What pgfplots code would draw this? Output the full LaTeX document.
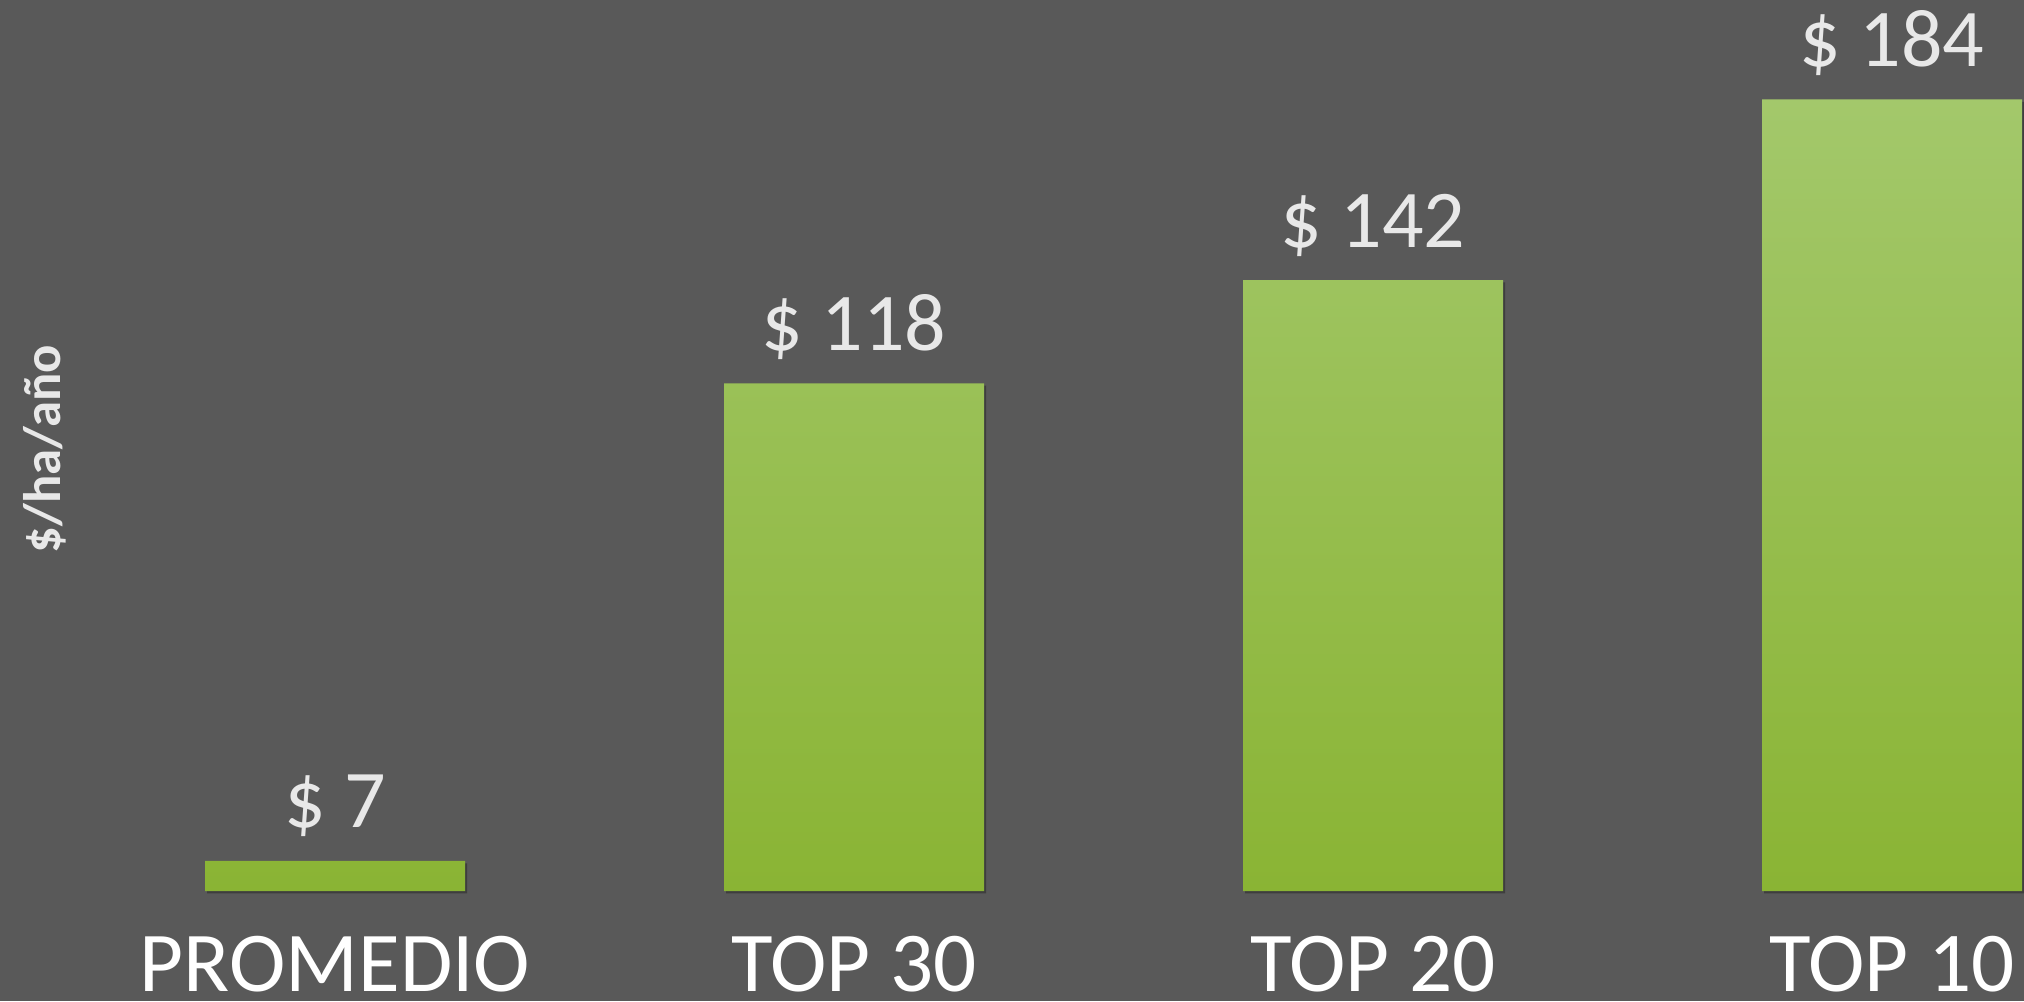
\documentclass[border=0pt]{standalone}
\usepackage{pgfplots}
\pgfplotsset{compat=1.18}
\usepackage{fontspec}
\setmainfont{Carlito}
\definecolor{bg}{HTML}{595959}
\definecolor{bartop}{HTML}{A3C86B}
\definecolor{barbot}{HTML}{8AB434}
\definecolor{vallab}{HTML}{E8E8E8}
\begin{document}
\begin{tikzpicture}
\fill[bg] (0,0) rectangle (506pt,250.25pt);
\begin{axis}[
  at={(0pt,27.5pt)}, anchor=south west,
  scale only axis, width=506pt, height=222.75pt,
  xmin=-0.6455, xmax=3.2543, ymin=0, ymax=207.1,
  axis line style={draw=none},
  tick style={draw=none},
  major tick length=0pt,
  clip=false,
  /pgf/number format/assume math mode=true,
  xtick=data,
  xticklabels={PROMEDIO,TOP 30,TOP 20,TOP 10},
  xticklabel style={anchor=base, inner sep=0pt, yshift=-25.2pt, text=white, font=\fontsize{21.3pt}{25pt}\selectfont},
  ytick=\empty,
  ylabel={\$/ha/año},
  every axis y label/.style={at={(axis description cs:0,0.496)}, xshift=11.25pt, rotate=90, anchor=center, inner sep=0pt, font=\bfseries\fontsize{13.2pt}{15pt}\selectfont, text=vallab},
]
\addplot[ybar, bar width=65pt, bar shift=0pt, draw=none, fill=black, fill opacity=0.3, xshift=0.5pt, yshift=-0.6pt]
  coordinates {(0,7) (1,118) (2,142) (3,184)};
\addplot[ybar, bar width=65pt, bar shift=0pt, draw=none, top color=bartop, bottom color=barbot,
  nodes near coords={\$\space\pgfmathprintnumber{\pgfplotspointmeta}},
  nodes near coords style={anchor=base, yshift=8.25pt, inner sep=0pt, text=vallab, font=\fontsize{20.5pt}{24pt}\selectfont}]
  coordinates {(0,7) (1,118) (2,142) (3,184)};
\end{axis}
\pgfresetboundingbox
\path[use as bounding box] (0,0) rectangle (506pt,250.25pt);
\end{tikzpicture}
\end{document}
